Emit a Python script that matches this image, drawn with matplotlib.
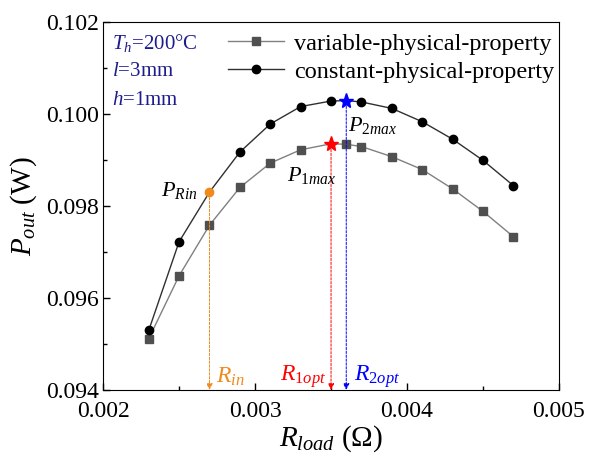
import matplotlib
matplotlib.use('Agg')
import matplotlib.pyplot as plt
from matplotlib.ticker import MultipleLocator

plt.rcParams['font.family'] = 'Liberation Serif'
plt.rcParams['mathtext.fontset'] = 'custom'
plt.rcParams['mathtext.rm'] = 'Liberation Serif'
plt.rcParams['mathtext.it'] = 'Liberation Serif:italic'

# load resistance (ohm)
r_load = [0.0023, 0.0025, 0.0027, 0.0029, 0.0031, 0.0033, 0.0035, 0.0036,
          0.0037, 0.0039, 0.0041, 0.0043, 0.0045, 0.0047]
# output power (W)
p_variable = [0.09511, 0.09648, 0.09758, 0.09840, 0.09893, 0.09922, 0.09935, 0.09934,
              0.09929, 0.09907, 0.09879, 0.09837, 0.09788, 0.09733]
p_constant = [0.09529, 0.09722, 0.09830, 0.09917, 0.09978, 0.10016, 0.10028, 0.10029,
              0.10026, 0.10012, 0.09983, 0.09945, 0.09899, 0.09844]

r_in = 0.0027
r_1opt = 0.0035
r_2opt = 0.0036

fig = plt.figure(figsize=(6.03, 4.57), dpi=100)
ax = fig.add_axes([0.171, 0.147, 0.756, 0.805])

# markers on every point except the highlighted ones
i_in = r_load.index(r_in)
i_1 = r_load.index(r_1opt)
i_2 = r_load.index(r_2opt)
var_marks = [i for i in range(len(r_load)) if i != i_1]
con_marks = [i for i in range(len(r_load)) if i not in (i_in, i_2)]

ax.plot(r_load, p_variable, color='#808080', lw=1, marker='s', ms=5.5,
        mfc='#505050', mec='#505050', markevery=var_marks,
        label='variable-physical-property')
ax.plot(r_load, p_constant, color='#303030', lw=1, marker='o', ms=6,
        mfc='black', mec='black', markevery=con_marks,
        label='constant-physical-property')

# highlighted points
ax.plot(r_in, p_constant[i_in], 'o', color='#f08a1c', ms=6)
ax.plot(r_1opt, p_variable[i_1], '*', color='red', ms=11)
ax.plot(r_2opt, p_constant[i_2], '*', color='blue', ms=11)

# dashed arrows to the x axis
ymin = 0.094
for x, y, c in [(r_in, p_constant[i_in], '#f08a1c'),
                (r_1opt, p_variable[i_1], 'red'),
                (r_2opt, p_constant[i_2], 'blue')]:
    ax.annotate('', xy=(x, ymin), xytext=(x, y),
                arrowprops=dict(arrowstyle='-|>', color=c, lw=0.7, ls=(0, (2.5, 1.5)),
                                mutation_scale=9, shrinkA=4, shrinkB=0))

ax.text(0.00262, 0.0981, r'$P_{Rin}$', fontsize=16, ha='right', va='bottom')
ax.text(0.00321, 0.09865, r'$P_{1max}$', fontsize=16, ha='left', va='center')
ax.text(0.00361, 0.09975, r'$P_{2max}$', fontsize=16, ha='left', va='center')

ax.text(0.00274, 0.09428, r'$R_{in}$', fontsize=17, color='#f08a1c', ha='left', va='center')
ax.text(0.00347, 0.09428, r'$R_{1opt}$', fontsize=17, color='red', ha='right', va='center')
ax.text(0.00365, 0.09428, r'$R_{2opt}$', fontsize=17, color='blue', ha='left', va='center')

navy = '#1c1c8c'
ax.text(0.02, 0.972, r'$T_h$=200°C', transform=ax.transAxes, fontsize=15, color=navy, va='top')
ax.text(0.02, 0.89, r'$l$=3mm', transform=ax.transAxes, fontsize=15, color=navy, va='top')
ax.text(0.02, 0.812, r'$h$=1mm', transform=ax.transAxes, fontsize=15, color=navy, va='top')

leg = ax.legend(loc='upper right', bbox_to_anchor=(1.037, 1.03), frameon=False,
                fontsize=17.5, handlelength=2.3, handletextpad=0.4, labelspacing=0.25)

ax.set_xlim(0.002, 0.005)
ax.set_ylim(0.094, 0.102)
ax.xaxis.set_major_locator(MultipleLocator(0.001))
ax.xaxis.set_minor_locator(MultipleLocator(0.0005))
ax.yaxis.set_major_locator(MultipleLocator(0.002))
ax.yaxis.set_minor_locator(MultipleLocator(0.001))
ax.xaxis.set_major_formatter(matplotlib.ticker.FormatStrFormatter('%.3f'))
ax.yaxis.set_major_formatter(matplotlib.ticker.FormatStrFormatter('%.3f'))
ax.tick_params(which='both', direction='in', top=False, right=False, labelsize=17)
ax.tick_params(which='major', length=5, width=1)
ax.tick_params(which='minor', length=3, width=1)
ax.tick_params(axis='x', pad=8)
ax.tick_params(axis='y', pad=3)

ax.set_xlabel(r'$R_{load}$ ($\Omega$)', fontsize=21, labelpad=1)
ax.set_ylabel(r'$P_{out}$ (W)', fontsize=21, labelpad=5)

fig.savefig('out.png', dpi=100)
